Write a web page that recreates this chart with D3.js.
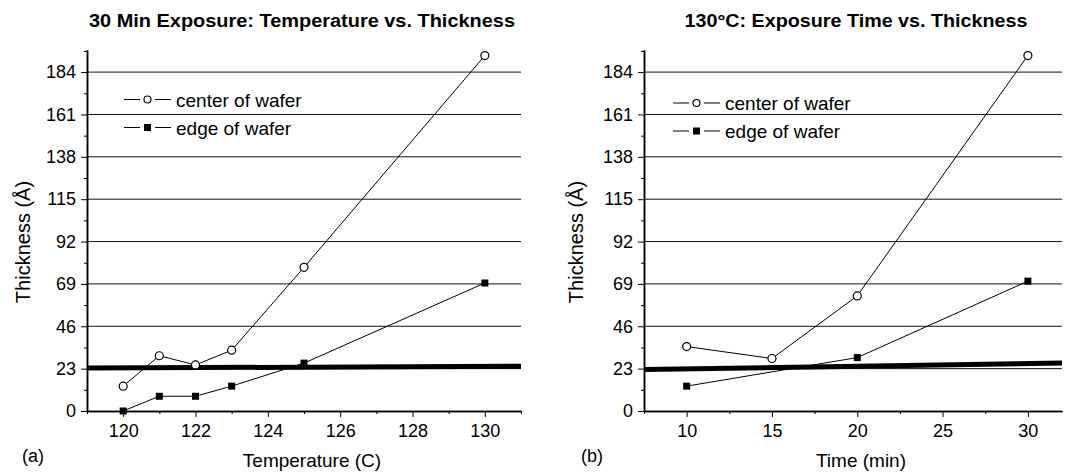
<!DOCTYPE html>
<html>
<head>
<meta charset="utf-8">
<script src="https://cdn.jsdelivr.net/npm/d3@7"></script>
<style>
  body { margin: 0; background: #fff; }
  svg { display: block; font-family: "Liberation Sans", Arial, sans-serif; }
  .axis path, .axis line { stroke: #000; }
  .axis text { font-size: 18px; fill: #000; }
</style>
</head>
<body>
<svg class="chart" width="1082" height="474"></svg>
<script>
// Static data
const tempC = [120, 121, 122, 123, 125, 130];
const tempCenter = [13.5, 30, 25, 33, 78, 193];
const tempEdge = [0, 8, 8, 13.5, 26, 69.5];
const tempRef = [23.3, 24.3];        // thick reference line, at both ends of the x axis

const timeMin = [10, 15, 20, 30];
const timeCenter = [35, 28.5, 62.5, 193];
const timeEdgeMin = [10, 20, 30];
const timeEdge = [13.5, 29, 70.5];
const timeRef = [22.5, 26];

const yTicks = [0, 23, 46, 69, 92, 115, 138, 161, 184];
const yMinor = [11.5, 34.5, 57.5, 80.5, 103.5, 126.5, 149.5, 172.5, 195.5];
const tempTicks = [120, 122, 124, 126, 128, 130];
const tempMinor = [119, 121, 123, 125, 127, 129, 131];
const timeTicks = [10, 15, 20, 25, 30];
const timeMinor = [7.5, 12.5, 17.5, 22.5, 27.5];

const seriesNames = ['center of wafer', 'edge of wafer'];

const svg = d3.select('.chart');

function panel(cfg) {
  const x = d3.scaleLinear().domain(cfg.xDomain).range(cfg.xRange);
  const y = d3.scaleLinear().domain([0, 196]).range([411, 50]);
  const g = svg.append('g');
  const [x0, x1] = cfg.xRange;

  // grid lines
  g.selectAll('.grid')
   .data(yTicks.filter(d => d > 0))
   .enter().append('line')
   .attr('x1', x0).attr('x2', x1)
   .attr('y1', d => y(d)).attr('y2', d => y(d))
   .attr('stroke', '#111').attr('stroke-width', 1);

  // thick reference line
  g.append('line')
   .attr('x1', x0).attr('x2', x1)
   .attr('y1', y(cfg.ref[0])).attr('y2', y(cfg.ref[1]))
   .attr('stroke', '#000').attr('stroke-width', 5);

  // axes
  g.append('g').attr('class', 'axis')
   .attr('transform', `translate(${x0},0)`)
   .call(d3.axisLeft(y).tickValues(yTicks).tickSize(6).tickSizeOuter(0).tickPadding(5));
  g.append('g').attr('class', 'axis')
   .attr('transform', `translate(${x0},0)`)
   .call(d3.axisLeft(y).tickValues(yMinor).tickSize(3).tickSizeOuter(0).tickFormat(''));
  g.append('g').attr('class', 'axis')
   .attr('transform', `translate(0,${y(0)})`)
   .call(d3.axisBottom(x).tickValues(cfg.xTicks).tickSize(6).tickSizeOuter(0).tickPadding(7));
  g.append('g').attr('class', 'axis')
   .attr('transform', `translate(0,${y(0)})`)
   .call(d3.axisBottom(x).tickValues(cfg.xMinor).tickSize(3).tickSizeOuter(0).tickFormat(''));
  g.selectAll('.axis path').attr('stroke-width', 1.5);

  // series
  const line = d3.line().x(d => x(d[0])).y(d => y(d[1]));
  const center = cfg.cx.map((v, i) => [v, cfg.cy[i]]);
  const edge = cfg.ex.map((v, i) => [v, cfg.ey[i]]);
  g.append('path').datum(center).attr('d', line)
   .attr('fill', 'none').attr('stroke', '#000').attr('stroke-width', 1);
  g.append('path').datum(edge).attr('d', line)
   .attr('fill', 'none').attr('stroke', '#000').attr('stroke-width', 1);
  g.selectAll('.pc').data(center).enter().append('circle')
   .attr('cx', d => x(d[0])).attr('cy', d => y(d[1])).attr('r', 4)
   .attr('fill', '#fff').attr('stroke', '#000').attr('stroke-width', 1.2);
  g.selectAll('.pe').data(edge).enter().append('rect')
   .attr('x', d => x(d[0]) - 3.5).attr('y', d => y(d[1]) - 3.5)
   .attr('width', 7).attr('height', 7).attr('fill', '#000');

  // legend
  const lg = g.append('g').attr('transform', `translate(${cfg.legend[0]},${cfg.legend[1]})`);
  seriesNames.forEach((name, i) => {
    const row = lg.append('g').attr('transform', `translate(0,${i * 28})`);
    row.append('line').attr('x1', 0).attr('x2', 16).attr('stroke', '#000');
    row.append('line').attr('x1', 31).attr('x2', 47).attr('stroke', '#000');
    if (i === 0) {
      row.append('circle').attr('cx', 23.5).attr('r', 3.5)
         .attr('fill', '#fff').attr('stroke', '#000').attr('stroke-width', 1.2);
    } else {
      row.append('rect').attr('x', 20).attr('y', -3.5).attr('width', 7).attr('height', 7);
    }
    row.append('text').attr('x', 52).attr('y', 7)
       .attr('font-size', 19).text(name);
  });

  // titles
  const cxm = (x0 + x1) / 2;
  g.append('text').attr('x', cxm + cfg.titleShift).attr('y', 27)
   .attr('text-anchor', 'middle').attr('font-weight', 'bold').attr('font-size', 18)
   .attr('textLength', cfg.titleLen).attr('lengthAdjust', 'spacingAndGlyphs')
   .text(cfg.title);
  g.append('text').attr('x', cxm + cfg.xLabelShift).attr('y', 467)
   .attr('text-anchor', 'middle').attr('font-size', 19).text(cfg.xLabel);
  g.append('text')
   .attr('transform', `translate(${cfg.yLabelX},242) rotate(-90)`)
   .attr('text-anchor', 'middle').attr('font-size', 20).text('Thickness (Å)');
  g.append('text').attr('x', cfg.tag[0]).attr('y', cfg.tag[1])
   .attr('font-size', 18).text(cfg.tagText);
}

panel({
  xDomain: [119, 131], xRange: [87, 521],
  xTicks: tempTicks, xMinor: tempMinor,
  cx: tempC, cy: tempCenter, ex: tempC, ey: tempEdge, ref: tempRef,
  legend: [124, 99.5],
  title: '30 Min Exposure: Temperature vs. Thickness', titleLen: 426, titleShift: -2,
  xLabel: 'Temperature (C)', xLabelShift: 8, yLabelX: 30,
  tag: [22, 462], tagText: '(a)'
});

panel({
  xDomain: [7.5, 32], xRange: [644, 1062],
  xTicks: timeTicks, xMinor: timeMinor,
  cx: timeMin, cy: timeCenter, ex: timeEdgeMin, ey: timeEdge, ref: timeRef,
  legend: [673, 103],
  title: '130°C: Exposure Time vs. Thickness', titleLen: 343, titleShift: 3,
  xLabel: 'Time (min)', xLabelShift: 8, yLabelX: 583,
  tag: [581, 462], tagText: '(b)'
});
</script>
</body>
</html>
